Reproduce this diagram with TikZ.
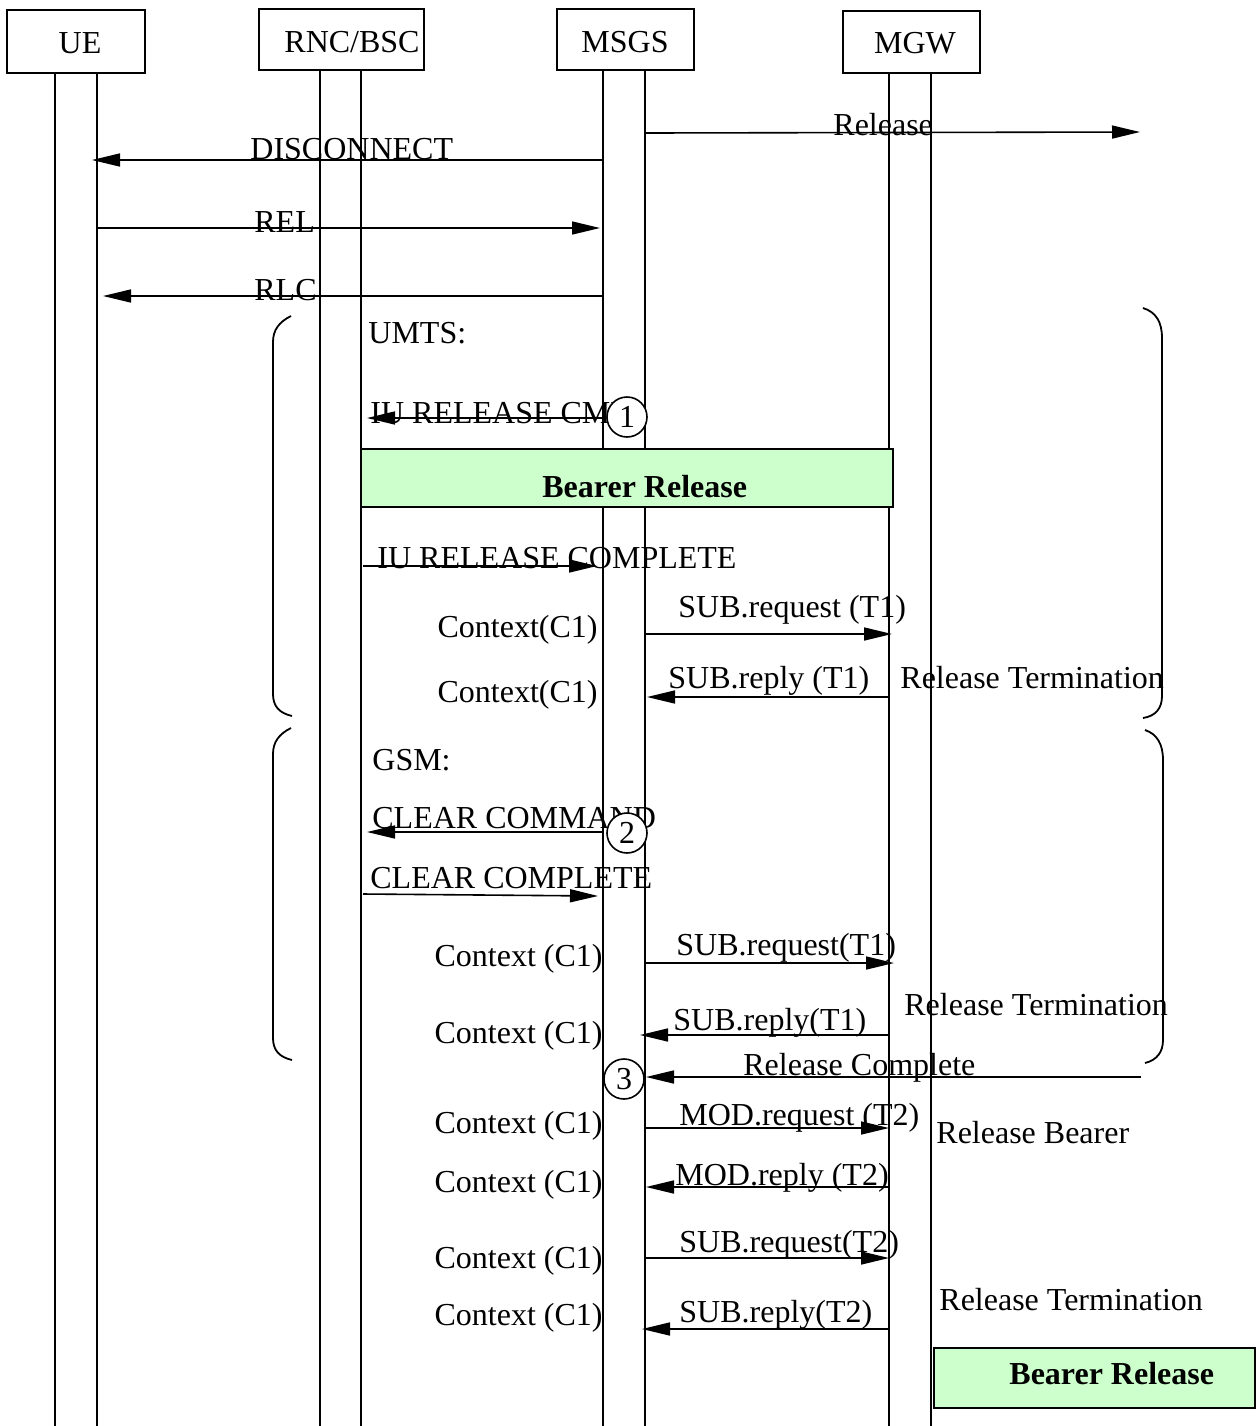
\documentclass[tikz,border=0pt]{standalone}
\usepackage{fontspec}
\setmainfont{Liberation Serif}
\usetikzlibrary{arrows.meta}
\definecolor{bearergreen}{HTML}{CCFFCC}
\newcommand\msgarrow[5]{%
  \coordinate (#1s) at (#2,#3);
  \coordinate (#1e) at (#4,#5);
  \draw[msg] (#1s) -- (#1e);}
\newcommand\lifeline[3]{%
  \coordinate (#1t) at (#2,#3);
  \coordinate (#1b) at (#2,1426);
  \draw[life] (#1t) -- (#1b);}
\begin{document}
\begin{tikzpicture}[x=0.5pt,y=-0.5pt,
  lbl/.style={inner sep=0pt, font=\fontsize{16pt}{19pt}\selectfont},
  lblw/.style={lbl, anchor=base west},
  lble/.style={lbl, anchor=base east},
  lblc/.style={lbl, anchor=base},
  partbox/.style={draw, line width=1pt, inner sep=0pt},
  life/.style={line width=0.8pt},
  msg/.style={line width=0.8pt, -{Triangle[length=14pt,width=6.5pt]}},
  brace/.style={line width=0.9pt},
  bearer/.style={draw, line width=1pt, fill=bearergreen, inner sep=0pt},
  num/.style={circle, draw, fill=white, line width=0.8pt, minimum size=20pt, inner sep=0pt, font=\fontsize{16pt}{19pt}\selectfont}
]
\useasboundingbox (0,0) rectangle (1258,1426);

% participant boxes
\node[partbox, minimum width=69pt, minimum height=31.5pt] (ue) at (76,41.5) {};
\node[partbox, minimum width=82.5pt, minimum height=30.5pt] (rnc) at (341.5,39.5) {};
\node[partbox, minimum width=68.5pt, minimum height=30.5pt] (msc) at (625.5,39.5) {};
\node[partbox, minimum width=68.5pt, minimum height=31pt] (mgw) at (911,42) {};
\node[lblc] (uet) at (80,53) {UE};
\node[lblc] (rnct) at (352,52) {RNC/BSC};
\node[lblc] (msct) at (625,52) {MSGS};
\node[lblc] (mgwt) at (915,53) {MGW};

% lifelines
\lifeline{ueA}{55}{73}
\lifeline{ueB}{97}{73}
\lifeline{rncA}{320}{70}
\lifeline{rncB}{361}{70}
\lifeline{mscA}{603}{70}
\lifeline{mscB}{645}{70}
\lifeline{mgwA}{889}{73}
\lifeline{mgwB}{931}{73}

% bearer release boxes
\node[bearer, minimum width=266pt, minimum height=29pt] (br1) at (627,478) {};
\node[lblw, font=\fontsize{16pt}{19pt}\selectfont\bfseries] (br1t) at (542,497) {Bearer Release};
\node[bearer, line width=1.4pt, minimum width=160.5pt, minimum height=30pt] (br2) at (1094.5,1378) {};
\node[lblw, font=\fontsize{16pt}{19pt}\selectfont\bfseries] (br2t) at (1009,1384) {Bearer Release};

% braces
\draw[brace] (291,316) .. controls (279,322) and (273,330) .. (273,342) -- (273,694) .. controls (273,706) and (279,713) .. (292,716);
\draw[brace] (1143,308) .. controls (1156,312) and (1162,322) .. (1162,338) -- (1162,696) .. controls (1162,708) and (1156,716) .. (1143,718);
\draw[brace] (291,728) .. controls (279,734) and (273,742) .. (273,754) -- (273,1038) .. controls (273,1050) and (279,1057) .. (292,1060);
\draw[brace] (1145,730) .. controls (1157,734) and (1163,744) .. (1163,760) -- (1163,1040) .. controls (1163,1052) and (1157,1060) .. (1145,1063);

% messages
\msgarrow{m1}{645}{133}{1140}{132}
\msgarrow{m2}{603}{160}{92}{160}
\msgarrow{m3}{97}{228}{600}{228}
\msgarrow{m4}{603}{296}{103}{296}
\msgarrow{m5}{603}{418}{367}{418}
\msgarrow{m6}{363}{566}{597}{566}
\msgarrow{m7}{645}{634}{892}{634}
\msgarrow{m8}{889}{697}{647}{697}
\msgarrow{m9}{603}{832}{367}{832}
\msgarrow{m10}{363}{894}{598}{896}
\msgarrow{m11}{645}{963}{894}{963}
\msgarrow{m12}{889}{1035}{640}{1035}
\msgarrow{m13}{1141}{1077}{646}{1077}
\msgarrow{m14}{645}{1128}{889}{1128}
\msgarrow{m15}{889}{1187}{646}{1187}
\msgarrow{m16}{645}{1258}{889}{1258}
\msgarrow{m17}{889}{1329}{642}{1329}

% labels
\node[lblw] (t1) at (833,135) {Release};
\node[lblw] (t2) at (250,159) {DISCONNECT};
\node[lblw] (t3) at (254,232) {REL};
\node[lblw] (t4) at (254,300) {RLC};
\node[lblw] (t5) at (368,343) {UMTS:};
\node[lblw] (t6) at (370,423) {IU RELEASE CMD};
\node[lblw] (t7) at (377,568) {IU RELEASE COMPLETE};
\node[lblw] (t8) at (678,617) {SUB.request (T1)};
\node[lble] (t9) at (598,637) {Context(C1)};
\node[lblw] (t10) at (668,688) {SUB.reply (T1)};
\node[lble] (t11) at (598,702) {Context(C1)};
\node[lblw] (t12) at (900,688) {Release Termination};
\node[lblw] (t13) at (372,770) {GSM:};
\node[lblw] (t14) at (372,828) {CLEAR COMMAND};
\node[lblw] (t15) at (370,888) {CLEAR COMPLETE};
\node[lblw] (t16) at (676,955) {SUB.request(T1)};
\node[lble] (t17) at (603,966) {Context (C1)};
\node[lblw] (t18) at (673,1030) {SUB.reply(T1)};
\node[lble] (t19) at (603,1043) {Context (C1)};
\node[lblw] (t20) at (904,1015) {Release Termination};
\node[lblw] (t21) at (743,1075) {Release Complete};
\node[lblw] (t22) at (679,1125) {MOD.request (T2)};
\node[lble] (t23) at (603,1133) {Context (C1)};
\node[lblw] (t24) at (936,1143) {Release Bearer};
\node[lblw] (t25) at (675,1185) {MOD.reply (T2)};
\node[lble] (t26) at (603,1192) {Context (C1)};
\node[lblw] (t27) at (679,1252) {SUB.request(T2)};
\node[lble] (t28) at (603,1268) {Context (C1)};
\node[lblw] (t29) at (939,1310) {Release Termination};
\node[lblw] (t30) at (679,1322) {SUB.reply(T2)};
\node[lble] (t31) at (603,1325) {Context (C1)};

% numbered circles
\node[num] (c1) at (627,417) {1};
\node[num] (c2) at (627,833) {2};
\node[num] (c3) at (624,1079) {3};
\end{tikzpicture}
\end{document}
